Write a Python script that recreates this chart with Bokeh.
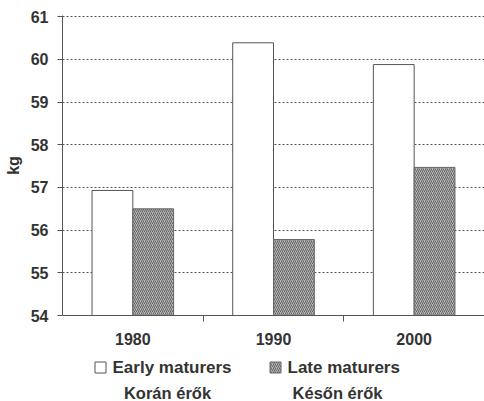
from bokeh.plotting import figure
from bokeh.layouts import column
from bokeh.models import ColumnDataSource, FixedTicker
from bokeh.core.properties import value
from bokeh.embed import file_html
from bokeh.resources import INLINE

years = ["1980", "1990", "2000"]
early = [56.93, 60.39, 59.88]
late = [56.50, 55.78, 57.47]
series_names = ["Early maturers", "Late maturers"]
hu_names = ["Korán érők", "Későn érők"]
y_ticks = [54, 55, 56, 57, 58, 59, 60, 61]

FONT = "Liberation Sans"
TXT = "#333333"
EDGE = "#555555"
W = 484
LEFT = 62

early_style = dict(fill_color="white", line_color=EDGE, line_width=1)
late_style = dict(fill_color="#b2b2b2", line_color="#666666", line_width=1,
                  hatch_pattern="/", hatch_color="#666666", hatch_scale=4,
                  hatch_weight=1)

idx = [i + 0.5 for i in range(len(years))]
bw = 0.29
src = ColumnDataSource(dict(
    xe=[i - bw / 2 for i in idx],
    xl=[i + bw / 2 for i in idx],
    early=early, late=late,
))

p = figure(width=W, height=355, x_range=(0, 3), y_range=(54, 61.03),
           output_backend="svg", toolbar_location=None,
           min_border_left=LEFT, min_border_right=0, min_border_top=15,
           min_border_bottom=40)
p.outline_line_color = None

p.xgrid.grid_line_color = None
p.ygrid.grid_line_color = EDGE
p.ygrid.grid_line_dash = "2 2"
p.ygrid.grid_line_width = 1
p.ygrid.ticker = FixedTicker(ticks=y_ticks)

p.vbar(x="xe", top="early", bottom=54, width=bw, source=src, **early_style)
p.vbar(x="xl", top="late", bottom=54, width=bw, source=src, **late_style)

p.xaxis.ticker = FixedTicker(ticks=idx, minor_ticks=[1, 2])
p.xaxis.major_label_overrides = {v: y for v, y in zip(idx, years)}
p.xaxis.major_tick_line_color = None
p.xaxis.major_tick_in = 0
p.xaxis.major_tick_out = 0
p.xaxis.minor_tick_in = 0
p.xaxis.minor_tick_out = 6
p.xaxis.minor_tick_line_color = EDGE
p.xaxis.major_label_standoff = 11
p.xaxis.axis_line_color = EDGE

p.yaxis.ticker = FixedTicker(ticks=y_ticks)
p.yaxis.major_tick_in = 0
p.yaxis.major_tick_out = 5
p.yaxis.minor_tick_line_color = None
p.yaxis.major_tick_line_color = EDGE
p.yaxis.axis_line_color = EDGE
p.yaxis.major_label_standoff = 9
p.yaxis.axis_label = "kg"
p.yaxis.axis_label_standoff = 6

for ax in (p.xaxis[0], p.yaxis[0]):
    ax.major_label_text_font = FONT
    ax.major_label_text_font_size = "16px"
    ax.major_label_text_font_style = "bold"
    ax.major_label_text_color = TXT
    ax.axis_label_text_font = FONT
    ax.axis_label_text_font_size = "16px"
    ax.axis_label_text_font_style = "bold"
    ax.axis_label_text_color = TXT

# legend strip below the chart (x in page pixels, y measured upward)
LH = 46
lg = figure(width=W, height=LH, x_range=(LEFT, W), y_range=(0, LH),
            output_backend="svg", toolbar_location=None,
            min_border_left=LEFT, min_border_right=0,
            min_border_top=0, min_border_bottom=0)
lg.axis.visible = False
lg.grid.visible = False
lg.outline_line_color = None

box_x = [100, 275]
text_x = [112, 287]
row1_y = LH - 12
lg.rect(x=box_x[0], y=row1_y, width=11, height=11, **early_style)
lg.rect(x=box_x[1], y=row1_y, width=11, height=11, **late_style)
lg.text(x=text_x, y=[row1_y] * 2, text=series_names,
        text_font=value(FONT), text_font_size="17px", text_font_style="bold",
        text_color=TXT, text_baseline="middle", text_align="left")
lg.text(x=[167, 337], y=[LH - 37] * 2, text=hu_names,
        text_font=value(FONT), text_font_size="16.5px", text_font_style="bold",
        text_color=TXT, text_baseline="middle", text_align="center")

layout = column(p, lg, spacing=0)
open("out.html", "w").write(file_html(layout, INLINE))
